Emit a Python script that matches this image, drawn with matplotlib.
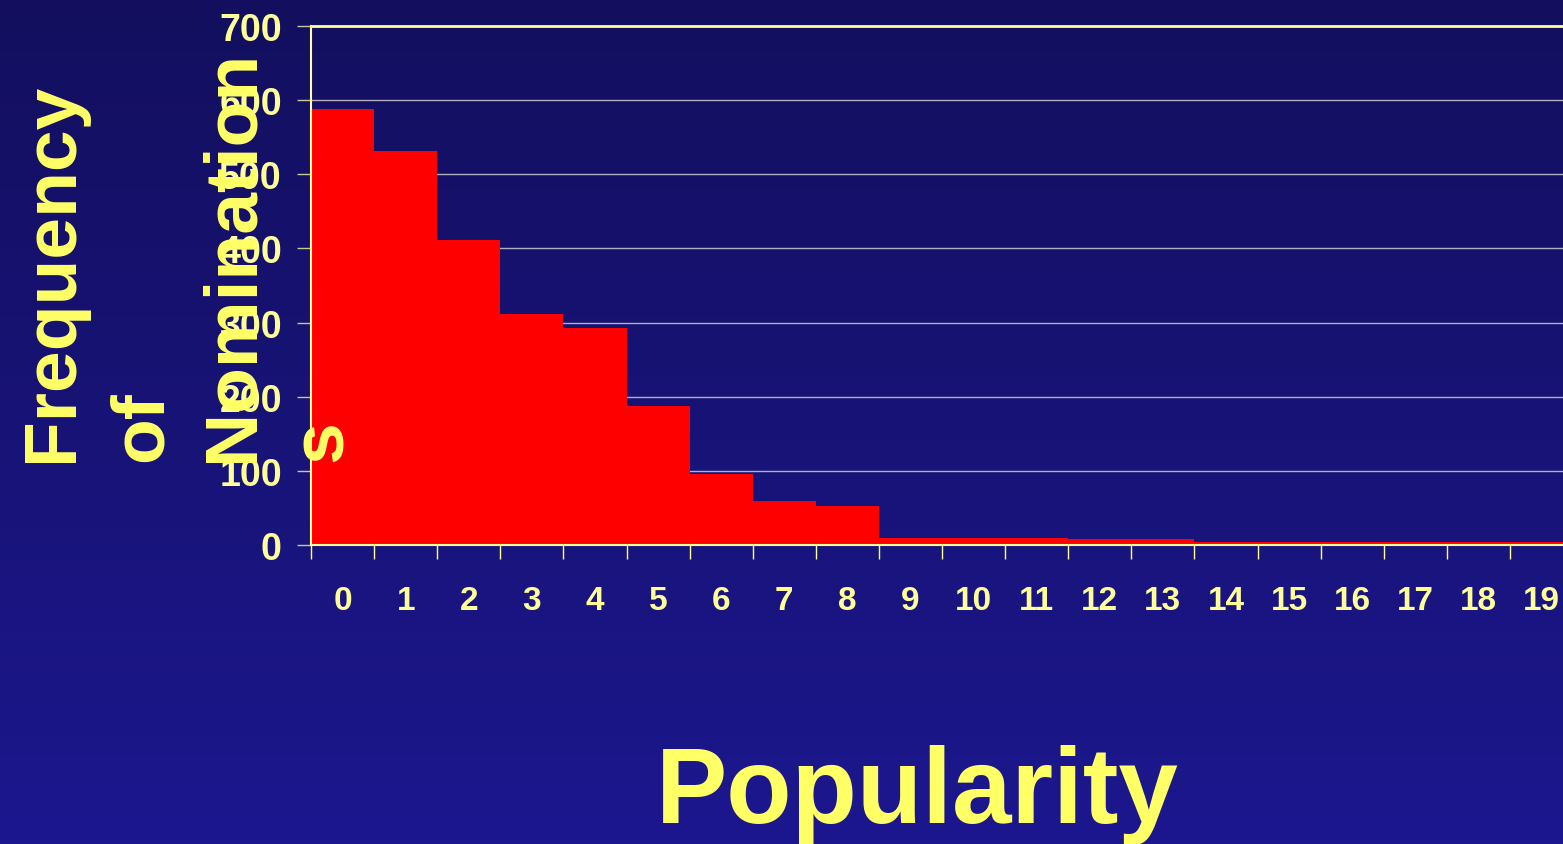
import matplotlib
matplotlib.use("Agg")
import matplotlib.pyplot as plt
import numpy as np

# Data
popularity = list(range(20))
frequency = [588, 532, 411, 311, 293, 187, 96, 60, 52, 10,
             10, 10, 8, 8, 4, 4, 4, 4, 4, 4]
y_ticks = [0, 100, 200, 300, 400, 500, 600, 700]
ylabel_lines = ["Frequency", "of", "Nomination", "s"]

YELLOW = "#ffff66"
PALE = "#ffff99"
TICKFONT = ["Liberation Sans Narrow", "Liberation Sans"]

fig = plt.figure(figsize=(15.63, 8.45), dpi=100)

# Gradient background
bg = fig.add_axes([0, 0, 1, 1], zorder=-10)
top = np.array([19, 15, 94]) / 255
bottom = np.array([28, 23, 142]) / 255
t = np.linspace(0, 1, 256)[:, None]
grad = top + (bottom - top) * t
bg.imshow(grad[:, None, :], aspect="auto", extent=[0, 1, 0, 1])
bg.axis("off")

# Main chart
ax = fig.add_axes([311 / 1563, 1 - 546 / 845, 1262 / 1563, 519 / 845])
ax.set_facecolor("none")
ax.bar(popularity, frequency, width=1.0, color="#ff0000", edgecolor="none", zorder=2)

ax.set_xlim(-0.5, 19.5)
ax.set_ylim(0, 700)
ax.set_yticks(y_ticks)
ax.set_yticklabels([str(v) for v in y_ticks], family=TICKFONT, weight="bold",
                   fontsize=27, color=PALE)
ax.set_xticks(popularity)
ax.set_xticklabels([str(v) for v in popularity], family=TICKFONT, weight="bold",
                   fontsize=24, color=PALE)
ax.set_xticks(np.arange(-0.5, 20, 1), minor=True)
ax.tick_params(axis="x", which="major", length=0, pad=29)
ax.tick_params(axis="x", which="minor", length=10, width=1, color=PALE, direction="out")
ax.tick_params(axis="y", length=10, width=1, color="#c8c8a0", direction="out", pad=11)

ax.grid(axis="y", color="#b0b0c0", linewidth=1, zorder=1)
for side in ["top", "left", "bottom"]:
    ax.spines[side].set_color(PALE)
    ax.spines[side].set_zorder(3)
ax.spines["top"].set_linewidth(2)
ax.spines["left"].set_linewidth(1.5)
ax.spines["bottom"].set_linewidth(1.5)
ax.spines["right"].set_visible(False)

# Y label, stacked rotated lines
for i, line in enumerate(ylabel_lines):
    fig.text((72 + 90 * i) / 1563, 1 - 462 / 845, line, rotation=90,
             rotation_mode="anchor", ha="left", va="baseline",
             family="Liberation Sans", weight="bold", fontsize=54, color=YELLOW)

# X label
fig.text(917 / 1563, 1 - 823 / 845, "Popularity", ha="center", va="baseline",
         family="Liberation Sans", weight="bold", fontsize=77, color=YELLOW)

plt.savefig("out.png", dpi=100)
plt.close()
